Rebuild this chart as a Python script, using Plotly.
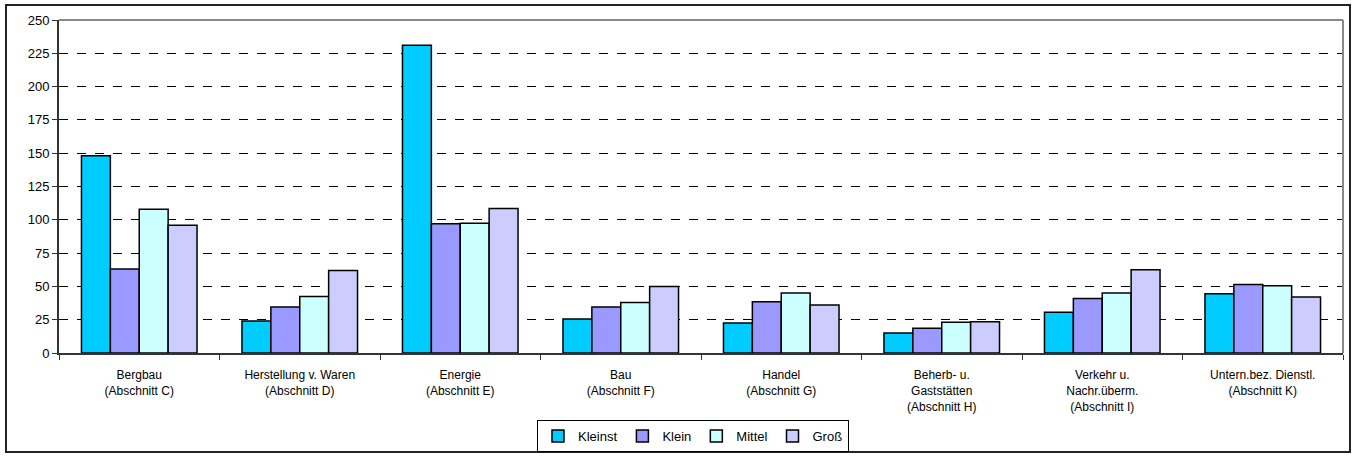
import plotly.graph_objects as go

categories = [
    "Bergbau<br>(Abschnitt C)",
    "Herstellung v. Waren<br>(Abschnitt D)",
    "Energie<br>(Abschnitt E)",
    "Bau<br>(Abschnitt F)",
    "Handel<br>(Abschnitt G)",
    "Beherb- u.<br>Gaststätten<br>(Abschnitt H)",
    "Verkehr u.<br>Nachr.überm.<br>(Abschnitt I)",
    "Untern.bez. Dienstl.<br>(Abschnitt K)",
]
kleinst = [148, 24, 231, 25.5, 22.5, 15, 30.5, 44.5]
klein = [63, 34.5, 97, 34.5, 38.5, 18.5, 41, 51.5]
mittel = [108, 42.5, 97.5, 38, 45, 23, 45, 50.5]
gross = [96, 62, 108.5, 50, 36, 23.5, 62.5, 42]

series_names = ["Kleinst", "Klein", "Mittel", "Groß"]
series_values = [kleinst, klein, mittel, gross]
colors = ["#00CCFF", "#9999FF", "#CCFFFF", "#CCCCFF"]
y_ticks = [0, 25, 50, 75, 100, 125, 150, 175, 200, 225, 250]

fig = go.Figure()
for name, vals, col in zip(series_names, series_values, colors):
    fig.add_trace(go.Bar(
        name=name, x=categories, y=vals,
        marker=dict(color=col, line=dict(color="#000000", width=1.5)),
    ))

W, H = 1353, 456
L, R, T, B = 59, 10, 20, 103
pw, ph = W - L - R, H - T - B

def px_x(x):
    return (x - L) / pw

def px_y(y):
    return (H - B - y) / ph

fig.update_layout(
    width=W, height=H,
    margin=dict(l=L, r=R, t=T, b=B, autoexpand=False),
    paper_bgcolor="white", plot_bgcolor="white",
    barmode="group", bargap=0.28, bargroupgap=0,
    font=dict(family="Liberation Sans, Arial", size=12, color="#000000"),
    legend=dict(
        orientation="h", x=px_x(693), xanchor="center",
        y=px_y(436), yanchor="middle",
        bordercolor="#000000", borderwidth=1,
        font=dict(size=13), itemwidth=30, tracegroupgap=0,
        traceorder="normal",
    ),
    showlegend=True,
    shapes=[
        dict(type="rect", xref="paper", yref="paper",
             x0=px_x(6), x1=px_x(1350), y0=px_y(452), y1=px_y(5),
             line=dict(color="#222222", width=2), fillcolor="rgba(0,0,0,0)", layer="below"),
        dict(type="line", xref="paper", yref="paper",
             x0=0, x1=1, y0=1, y1=1, line=dict(color="#888888", width=2)),
        dict(type="line", xref="paper", yref="paper",
             x0=1, x1=1, y0=0, y1=1, line=dict(color="#888888", width=2)),
    ],
)

fig.update_xaxes(
    type="category", automargin=False,
    showline=True, linecolor="#333333", linewidth=2,
    ticks="outside", tickson="boundaries", ticklen=5, tickcolor="#333333",
    showgrid=False, tickfont=dict(size=12), tickangle=0,
    ticklabelstandoff=10,
)
fig.update_yaxes(
    range=[0, 250], tickvals=y_ticks, ticktext=[str(v) for v in y_ticks],
    automargin=False,
    showline=True, linecolor="#333333", linewidth=2,
    ticks="outside", ticklen=5, tickcolor="#333333",
    showgrid=True, gridcolor="#000000", griddash="dash", gridwidth=1,
    zeroline=False, tickfont=dict(size=13),
)

fig.write_html("out.html")
